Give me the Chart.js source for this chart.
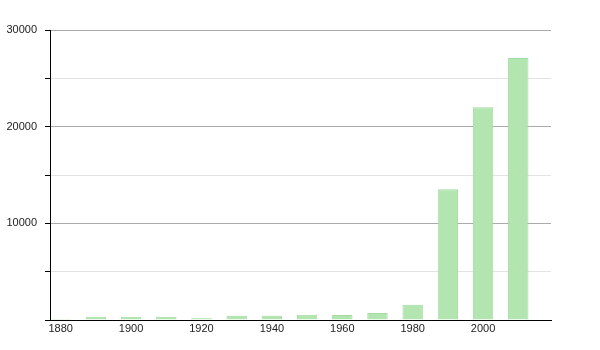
<!DOCTYPE html>
<html>
<head>
<meta charset="utf-8">
<script src="https://cdn.jsdelivr.net/npm/chart.js@4"></script>
<style>
html,body{margin:0;padding:0;background:#fff;}
#wrap{width:600px;height:350px;}
</style>
</head>
<body>
<div id="wrap"><canvas id="c" width="600" height="350"></canvas></div>
<script>
const years = [1880,1890,1900,1910,1920,1930,1940,1950,1960,1970,1980,1990,2000,2010];
const population = [100,340,340,330,240,450,450,550,520,720,1590,13520,22000,27100];
const xTickLabels = [1880,1900,1920,1940,1960,1980,2000];
const yTickLabels = [10000,20000,30000];

const points = years.map((y,i)=>({x:y,y:population[i]}));

new Chart(document.getElementById('c'), {
  type: 'bar',
  data: {
    datasets: [{
      data: points,
      backgroundColor: '#b3e5b1',
      borderColor: '#a3daa1',
      borderWidth: 1,
      barPercentage: 0.58,
      categoryPercentage: 1.0
    }]
  },
  options: {
    responsive: false,
    animation: false,
    devicePixelRatio: 1,
    layout: { padding: { top: 30, right: 49, left: 0, bottom: 0 } },
    plugins: { legend: { display: false }, tooltip: { enabled: false } },
    scales: {
      x: {
        type: 'linear',
        offset: false,
        min: 1876.96,
        max: 2019.3,
        afterBuildTicks: (s) => { s.ticks = xTickLabels.map(v => ({ value: v })); },
        afterFit: (s) => { s.height = 30; },
        grid: { display: false, drawTicks: false, offset: false },
        border: { display: true, color: '#000', width: 1 },
        ticks: {
          padding: 2,
          color: '#222',
          font: { family: 'Liberation Sans, Arial, sans-serif', size: 11 },
          callback: (v) => String(v),
          maxRotation: 0,
          autoSkip: false
        }
      },
      y: {
        min: 0,
        max: 30000,
        afterFit: (s) => { s.width = 50; },
        afterBuildTicks: (s) => {
          const t = [];
          for (let v = 0; v <= 30000; v += 5000) t.push({ value: v });
          s.ticks = t;
        },
        grid: {
          color: (ctx) => (ctx.tick && ctx.tick.value % 10000 === 0) ? '#aaaaaa' : '#e2e2e2',
          tickColor: '#000',
          tickLength: 5,
          drawTicks: true
        },
        border: { display: true, color: '#000', width: 1 },
        ticks: {
          padding: 8,
          color: '#222',
          font: { family: 'Liberation Sans, Arial, sans-serif', size: 11 },
          autoSkip: false,
          callback: (v) => yTickLabels.includes(v) ? String(v) : ''
        }
      }
    }
  }
});
</script>
</body>
</html>
